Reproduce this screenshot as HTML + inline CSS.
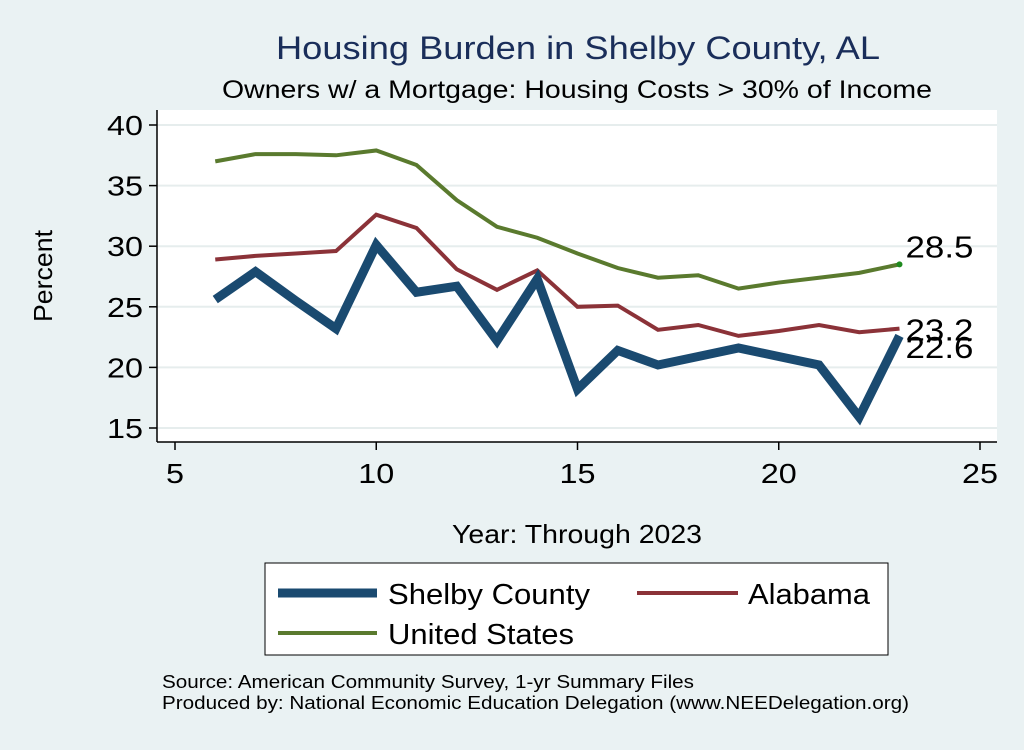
<!DOCTYPE html>
<html><head><meta charset="utf-8"><style>
body{margin:0;background:#eaf2f3;font-family:"Liberation Sans",sans-serif}
</style></head><body>
<svg width="1024" height="745" xmlns="http://www.w3.org/2000/svg" font-family="Liberation Sans, sans-serif" id="chart">
<rect x="0" y="0" width="1024" height="745" fill="#eaf2f3"/>
<text x="276" y="59" font-size="32" fill="#1a2e5a" textLength="604" lengthAdjust="spacingAndGlyphs">Housing Burden in Shelby County, AL</text>
<text x="222" y="98" font-size="25" fill="#000" textLength="710" lengthAdjust="spacingAndGlyphs">Owners w/ a Mortgage: Housing Costs &gt; 30% of Income</text>
<rect x="157" y="110" width="840" height="332" fill="#fff"/>
<g id="grid"></g><g id="axes"></g><g id="series"></g>
<text x="52" y="276" font-size="26" text-anchor="middle" textLength="92" lengthAdjust="spacingAndGlyphs" transform="rotate(-90 52 276)">Percent</text>
<text x="452" y="543" font-size="26" textLength="250" lengthAdjust="spacingAndGlyphs">Year: Through 2023</text>
<g>
<rect x="265" y="563" width="623" height="92" fill="#fff" stroke="#000" stroke-width="1"/>
<g><line x1="278" y1="593" x2="377" y2="593" stroke="#1a4a70" stroke-width="9"/><text x="388" y="604" font-size="29" textLength="202" lengthAdjust="spacingAndGlyphs">Shelby County</text></g>
<g><line x1="637" y1="593" x2="738" y2="593" stroke="#8b3238" stroke-width="4"/><text x="748" y="604" font-size="29" textLength="122" lengthAdjust="spacingAndGlyphs">Alabama</text></g>
<g><line x1="278" y1="633" x2="377" y2="633" stroke="#5a7a2e" stroke-width="4"/><text x="388" y="644" font-size="29" textLength="186" lengthAdjust="spacingAndGlyphs">United States</text></g>
</g>
<text x="162" y="688" font-size="18" textLength="532" lengthAdjust="spacingAndGlyphs">Source: American Community Survey, 1-yr Summary Files</text>
<text x="162" y="709" font-size="18" textLength="747" lengthAdjust="spacingAndGlyphs">Produced by: National Economic Education Delegation (www.NEEDelegation.org)</text>
</svg>
<script>
const years=[6,7,8,9,10,11,12,13,14,15,16,17,18,19,20,21,22,23];
const shelby=[25.6,27.9,25.5,23.2,30.1,26.2,26.7,22.2,27.3,18.2,21.4,20.2,20.9,21.6,20.9,20.2,15.9,22.6];
const alabama=[28.9,29.2,29.4,29.6,32.6,31.5,28.1,26.4,28.0,25.0,25.1,23.1,23.5,22.6,23.0,23.5,22.9,23.2];
const us=[37.0,37.6,37.6,37.5,37.9,36.7,33.8,31.6,30.7,29.4,28.2,27.4,27.6,26.5,27.0,27.4,27.8,28.5];
const xTicks=[5,10,15,20,25];
const yTicks=[15,20,25,30,35,40];
const X=v=>175+(v-5)*(980-175)/20;
const Y=v=>428-(v-15)*(428-125)/25;
const NS="http://www.w3.org/2000/svg";
function mk(tag,attrs,parent){const e=document.createElementNS(NS,tag);for(const k in attrs)e.setAttribute(k,attrs[k]);document.getElementById(parent).appendChild(e);return e;}
yTicks.forEach(t=>{
 const g=mk('line',{x1:157,x2:997,y1:Y(t),y2:Y(t),stroke:'#e6eded','stroke-width':2},'grid');
 
 
 const tk=mk('line',{x1:149,x2:157,y1:Y(t),y2:Y(t),stroke:'#000','stroke-width':1.5},'axes');
 
 
 const tx=mk('text',{x:107,y:Y(t)+10,'font-size':28,textLength:36,lengthAdjust:'spacingAndGlyphs'},'axes');
 tx.textContent=t;
 
 
});
xTicks.forEach(t=>{
 const tk=mk('line',{x1:X(t),x2:X(t),y1:442,y2:450,stroke:'#000','stroke-width':1.5},'axes');
 
 
 const w=String(t).length*18;
 const tx=mk('text',{x:X(t)-w/2,y:483,'font-size':28,textLength:w,lengthAdjust:'spacingAndGlyphs'},'axes');
 tx.textContent=t;
 
 
});
const ya=mk('line',{x1:157,x2:157,y1:110,y2:442,stroke:'#000','stroke-width':1.5},'axes');


const xa=mk('line',{x1:157,x2:997,y1:442,y2:442,stroke:'#000','stroke-width':1.5},'axes');


function line(vals,color,w,name,dy,dot){
 const d=vals.map((v,i)=>(i?'L':'M')+X(years[i])+' '+Y(v)).join(' ');
 const p=mk('path',{d:d,fill:'none',stroke:color,'stroke-width':w,'stroke-linejoin':'miter'},'series');
 
 
 const last=vals[vals.length-1];
 if(dot){const c=mk('circle',{cx:X(years[years.length-1]),cy:Y(last),r:3,fill:'#1f8a1f'},'series');
  
  }
 const t=mk('text',{x:X(years[years.length-1])+6,y:Y(last)+dy,'font-size':31,textLength:68,lengthAdjust:'spacingAndGlyphs'},'series');
 t.textContent=last.toFixed(1);
 
 
}
line(us,'#5a7a2e',4,'us-line',-7,true);
line(alabama,'#8b3238',4,'alabama-line',12,false);
line(shelby,'#1a4a70',9,'shelby-line',22,false);
</script>
</body></html>
